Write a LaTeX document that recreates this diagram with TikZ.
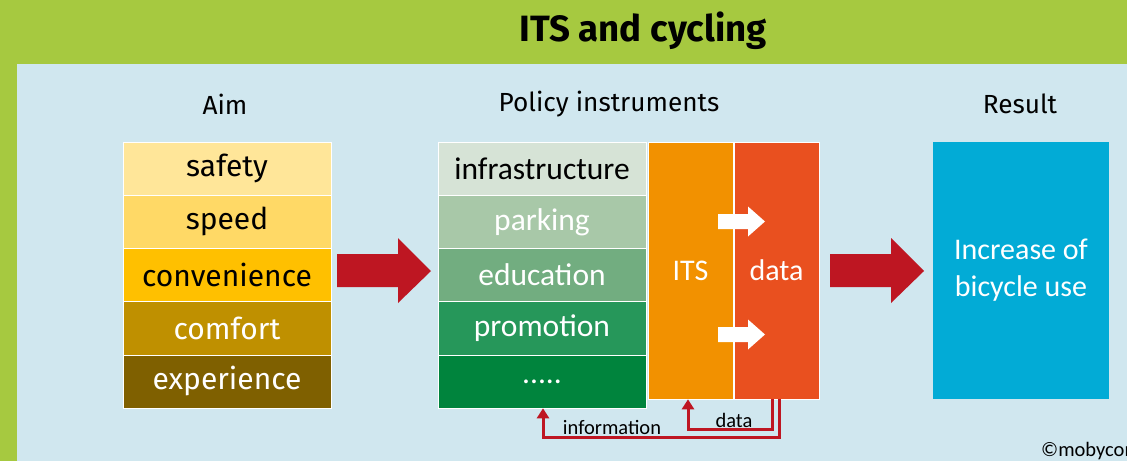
\documentclass[tikz,border=0pt]{standalone}
\usepackage{fontspec}
\setmainfont{Carlito}
\newfontfamily\dinlike{Fira Sans}
\usepackage{tikz}
\usetikzlibrary{arrows.meta}

\definecolor{bggreen}{HTML}{A6C940}
\definecolor{panelblue}{HTML}{D0E7EF}
\definecolor{arrowred}{HTML}{BE1622}
\definecolor{aimA}{HTML}{FFE699}
\definecolor{aimB}{HTML}{FFD966}
\definecolor{aimC}{HTML}{FFC000}
\definecolor{aimD}{HTML}{BF9000}
\definecolor{aimE}{HTML}{7F6000}
\definecolor{polA}{HTML}{D6E3D6}
\definecolor{polB}{HTML}{A8C8A8}
\definecolor{polC}{HTML}{72AD80}
\definecolor{polD}{HTML}{26975A}
\definecolor{polE}{HTML}{00843D}
\definecolor{itsorange}{HTML}{F29100}
\definecolor{dataorange}{HTML}{E9501F}
\definecolor{resultblue}{HTML}{02ABD6}

\tikzset{
  row/.style={minimum width=208pt, minimum height=53.2pt, inner sep=0pt,
    draw=white, line width=0.6pt},
  aimrow/.style={row, font=\dinlike\fontsize{30}{33}\selectfont},
  polrow/.style={row, font=\fontsize{31.5}{34}\selectfont},
  col/.style={minimum width=85pt, minimum height=257pt, inner sep=0pt,
    draw=white, line width=0.6pt, text=white, font=\fontsize{30}{34}\selectfont},
  head/.style={font=\dinlike\fontsize{26.2}{30}\selectfont},
  feedback/.style={arrowred, line width=3pt, -{Triangle[width=12pt,length=10pt]}},
  small/.style={font=\fontsize{20.5}{24}\selectfont}
}

\newcommand\blockarrow[3]{% tail x, centre y, fill colour
  \fill[#3] (#1,#2) ++(0,-17) -- ++(61,0) -- ++(0,-16) -- ++(33,33)
    -- ++(-33,32) -- ++(0,-16) -- ++(-61,0) -- cycle;}
\newcommand\moredots{.....}

\begin{document}
\begin{tikzpicture}[x=1pt,y=-1pt]
    \useasboundingbox (0,0) rectangle (1127,461);
    \fill[bggreen] (0,0) rectangle (1127,461);
    \fill[panelblue] (17,64) rectangle (1127,461);
    \node[font=\dinlike\bfseries\fontsize{36.6}{40}\selectfont] (title) at (643,31) {ITS and cycling};
    % column heads
    \node[head] (aimhead) at (225,104) {Aim};
    \node[head] (polhead) at (609,104) {Policy instruments};
    \node[head] (reshead) at (1020,104) {Result};
    % aims
    \foreach \lab/\fc/\tc [count=\i] in {safety/aimA/black, speed/aimB/black,
        convenience/aimC/black, comfort/aimD/white, experience/aimE/white}
      \node[aimrow, fill=\fc, text=\tc] (aim\i) at (227,{115.4+\i*53.2}) {\lab};
    % policy instruments
    \foreach \lab/\fc/\tc [count=\i] in {infrastructure/polA/black, parking/polB/white,
        education/polC/white, promotion/polD/white, \moredots/polE/white}
      \node[polrow, fill=\fc, text=\tc] (pol\i) at (542,{115.4+\i*53.2}) {\lab};
    \node[col, fill=itsorange] (its) at (690.5,270.5) {ITS};
    \node[col, fill=dataorange] (data) at (776.5,270.5) {data};
    % white arrows ITS -> data
    \foreach \y in {221.5,334.5}
      \fill[white] (718,\y) ++(0,-7.5) -- ++(30,0) -- ++(0,-7.5) -- ++(17,15)
        -- ++(-17,15) -- ++(0,-7.5) -- ++(-30,0) -- cycle;
    % big arrows
    \blockarrow{337}{271}{arrowred}
    \blockarrow{830}{271}{arrowred}
    % result
    \node[fill=resultblue, minimum width=176pt, minimum height=257pt, inner sep=0pt,
      text=white, align=center, font=\fontsize{30}{37}\selectfont] (result) at (1021,270.5)
      {Increase of\\bicycle use};
    % feedback loops
    \draw[feedback] ([xshift=2.5pt]data.south) -- ++(0,38) -| ([xshift=1pt]pol5.south);
    \draw[feedback] ([xshift=-4pt]data.south) -- ++(0,30) -| ([xshift=-2.5pt]its.south);
    \node[small] (infolab) at (612,427) {information};
    \node[small] (datalab) at (734,420) {data};
    \node[anchor=west, font=\fontsize{20.5}{24}\selectfont, inner sep=0pt] (copy) at (1041,451) {©mobycon};
\end{tikzpicture}
\end{document}
